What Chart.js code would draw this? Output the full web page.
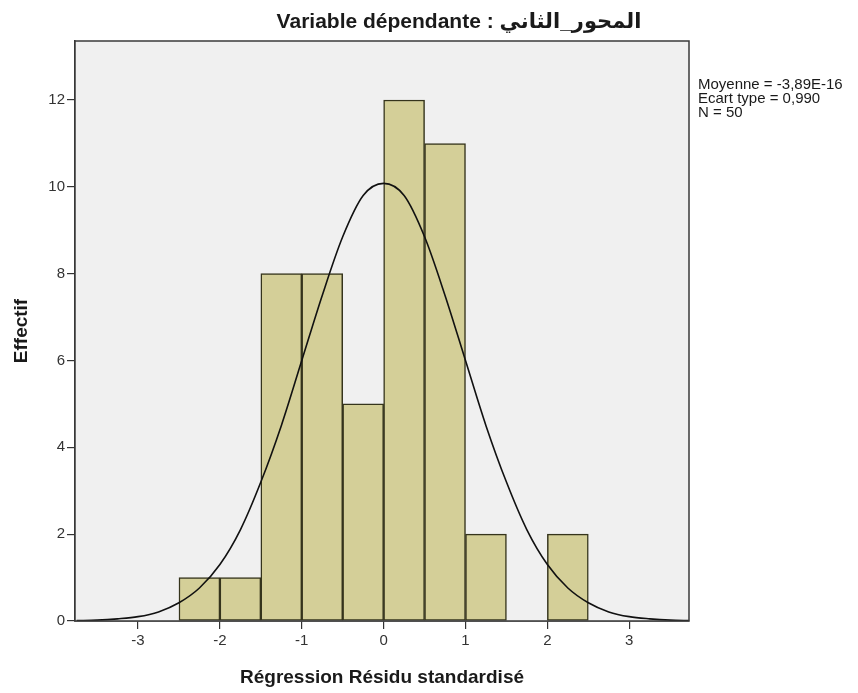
<!DOCTYPE html>
<html>
<head>
<meta charset="utf-8">
<script src="https://cdn.jsdelivr.net/npm/chart.js@4/dist/chart.umd.min.js"></script>
<style>
html,body{margin:0;padding:0;background:#ffffff;}
#wrap{width:858px;height:693px;position:relative;}
</style>
</head>
<body>
<div id="wrap"><canvas id="c" width="858" height="693"></canvas></div>
<script>
// Histogram bins (lower edges), width 0.5
const binLower = [-2.5, -2.0, -1.5, -1.0, -0.5, 0.0, 0.5, 1.0, 1.5, 2.0];
const binWidth = 0.5;
const counts = [1, 1, 8, 8, 5, 12, 11, 2, 0, 2];
// Normal curve
const curveX = [-3.75,-3.5,-3.25,-3.0,-2.75,-2.5,-2.25,-2.0,-1.75,-1.5,-1.25,-1.0,-0.75,-0.5,-0.25,0.0,0.25,0.5,0.75,1.0,1.25,1.5,1.75,2.0,2.25,2.5,2.75,3.0,3.25,3.5,3.75];
const curveY = [0.01,0.02,0.05,0.10,0.21,0.42,0.76,1.30,2.10,3.20,4.50,6.00,7.50,8.85,9.80,10.08,9.80,8.85,7.50,6.00,4.50,3.20,2.10,1.30,0.76,0.42,0.21,0.10,0.05,0.02,0.01];
const xTicks = [-3, -2, -1, 0, 1, 2, 3];
const yTicks = [0, 2, 4, 6, 8, 10, 12];
const titleText = "Variable dépendante : المحور_الثاني";
const statsLines = ["Moyenne = -3,89E-16", "Ecart type = 0,990", "N = 50"];
const xTitle = "Régression Résidu standardisé";
const yTitle = "Effectif";

const barData = binLower.map((b, i) => ({x: b + binWidth / 2, y: counts[i]}));
const lineData = curveX.map((x, i) => ({x: x, y: curveY[i]}));

const FONT = "'Liberation Sans', Arial, 'DejaVu Sans', sans-serif";

const framePlugin = {
  id: 'frame',
  beforeDatasetsDraw(chart) {
    const {ctx, chartArea: a} = chart;
    ctx.save();
    ctx.fillStyle = '#f0f0f0';
    ctx.fillRect(a.left, a.top, a.right - a.left, a.bottom - a.top);
    ctx.restore();
  },
  afterDatasetsDraw(chart) {
    const {ctx, chartArea: a} = chart;
    ctx.save();
    ctx.strokeStyle = '#3a3a3a';
    ctx.lineWidth = 1.5;
    ctx.strokeRect(a.left, a.top, a.right - a.left, a.bottom - a.top);
    ctx.restore();
  },
  afterDraw(chart) {
    const {ctx} = chart;
    ctx.save();
    ctx.direction = 'ltr';
    ctx.fillStyle = '#1a1a1a';
    ctx.font = "bold 21px " + FONT;
    ctx.textAlign = 'center';
    ctx.textBaseline = 'alphabetic';
    ctx.fillText(titleText, 459, 28);
    ctx.font = "15px " + FONT;
    ctx.textAlign = 'left';
    statsLines.forEach((s, i) => ctx.fillText(s, 698, 89 + i * 14));
    ctx.restore();
  }
};

new Chart(document.getElementById('c'), {
  type: 'bar',
  data: {
    datasets: [
      {
        type: 'line',
        data: lineData,
        borderColor: '#111111',
        borderWidth: 1.6,
        pointRadius: 0,
        fill: false,
        cubicInterpolationMode: 'monotone',
        order: 0
      },
      {
        type: 'bar',
        data: barData,
        backgroundColor: '#d4cf98',
        borderColor: '#35341c',
        borderWidth: 1.5,
        borderSkipped: false,
        barPercentage: 1.0,
        categoryPercentage: 1.0,
        order: 1
      }
    ]
  },
  options: {
    responsive: false,
    animation: false,
    layout: {padding: {top: 41, right: 169, left: 0, bottom: 0}},
    plugins: {legend: {display: false}, tooltip: {enabled: false}, title: {display: false}},
    scales: {
      x: {
        type: 'linear',
        min: -3.77,
        max: 3.73,
        offset: false,
        afterBuildTicks(s) { s.ticks = xTicks.map(v => ({value: v})); },
        afterFit(s) { s.height = 72; },
        grid: {display: true, offset: false, drawOnChartArea: false, drawTicks: true, tickLength: 8, color: '#333333', lineWidth: 1.2},
        border: {display: true, color: '#333333', width: 1.5},
        ticks: {color: '#333333', font: {size: 15, family: FONT}, padding: 3, maxRotation: 0},
        title: {display: true, text: xTitle, color: '#1a1a1a', font: {size: 19, weight: 'bold', family: FONT}, padding: {top: 0, bottom: 4}}
      },
      y: {
        type: 'linear',
        min: 0,
        max: 13.36,
        afterBuildTicks(s) { s.ticks = yTicks.map(v => ({value: v})); },
        afterFit(s) { s.width = 75; },
        grid: {display: true, drawOnChartArea: false, drawTicks: true, tickLength: 8, color: '#333333', lineWidth: 1.2},
        border: {display: true, color: '#333333', width: 1.5},
        ticks: {color: '#333333', font: {size: 15, family: FONT}, padding: 2},
        title: {display: true, text: yTitle, color: '#1a1a1a', font: {size: 19, weight: 'bold', family: FONT}, padding: {top: 10, bottom: 0}}
      }
    }
  },
  plugins: [framePlugin]
});
</script>
</body>
</html>
